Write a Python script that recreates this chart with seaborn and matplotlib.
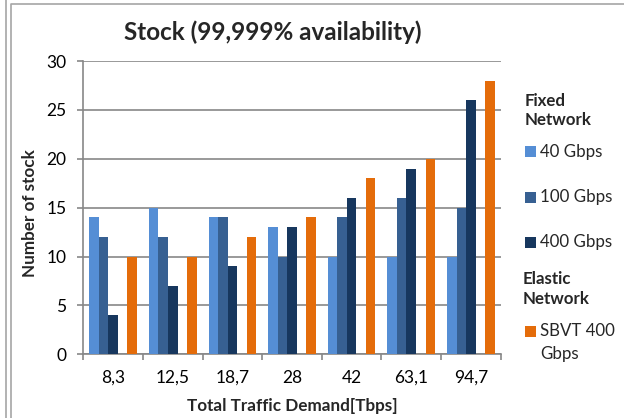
import matplotlib
matplotlib.use("Agg")
import matplotlib.pyplot as plt
from matplotlib.lines import Line2D
from matplotlib.patches import Rectangle
from matplotlib.ticker import FixedLocator, NullFormatter
import seaborn as sns
import pandas as pd
import numpy as np

# Demand scenarios (Tbps) and stock counts per transponder type
demand = ["8,3", "12,5", "18,7", "28", "42", "63,1", "94,7"]
stock_40g = [14, 15, 14, 13, 10, 10, 10]
stock_100g = [12, 12, 14, 10, 14, 16, 15]
stock_400g = [4, 7, 9, 13, 16, 19, 26]
stock_sbvt = [10, 10, 12, 14, 18, 20, 28]

series_names = ["40 Gbps", "100 Gbps", "400 Gbps", "SBVT 400 Gbps"]
colors = ["#558ED5", "#376092", "#17375E", "#E46C0A"]

# Empty hue slot separating the fixed-grid from the elastic transponders
SPACER = "_spacer"

rows = []
for name, vals in zip(series_names, [stock_40g, stock_100g, stock_400g, stock_sbvt]):
    for d, v in zip(demand, vals):
        rows.append({"demand": d, "type": name, "stock": v})
df = pd.DataFrame(rows)

hue_order = ["40 Gbps", "100 Gbps", "400 Gbps", SPACER, "SBVT 400 Gbps"]
palette = dict(zip(series_names, colors))
palette[SPACER] = "#FFFFFF"

sns.set_theme(style="white")
plt.rcParams["font.family"] = ["Lato", "DejaVu Sans"]

W, H = 624, 418
fig = plt.figure(figsize=(W / 100, H / 100), dpi=100)
ax = fig.add_axes([83.3 / W, 1 - 354.3 / H, (500.7 - 83.3) / W, (354.3 - 61) / H])

sns.barplot(data=df, x="demand", y="stock", hue="type", order=demand,
            hue_order=hue_order, palette=palette, width=0.8, linewidth=0,
            saturation=1, legend=False, ax=ax, zorder=3)

grid_col = "#878787"
ax.set_ylim(0, 30)
ax.set_xlim(-0.5, len(demand) - 0.5)
ax.set_yticks(np.arange(0, 31, 5))
ax.yaxis.grid(True, color=grid_col, linewidth=1.2, zorder=0)
ax.xaxis.grid(False)
ax.set_axisbelow(True)
for side in ["top", "right"]:
    ax.spines[side].set_visible(False)
for side in ["left", "bottom"]:
    ax.spines[side].set_color(grid_col)
    ax.spines[side].set_linewidth(1.2)

tick_fs = 12.5
ax.tick_params(axis="y", which="major", length=4, width=1.2, color=grid_col,
               labelsize=tick_fs, pad=8, labelcolor="#000000", left=True)
ax.tick_params(axis="x", which="major", length=0, labelsize=tick_fs, pad=11,
               labelcolor="#000000")
ax.xaxis.set_minor_locator(FixedLocator(np.arange(-0.5, len(demand), 1.0)))
ax.xaxis.set_minor_formatter(NullFormatter())
ax.tick_params(axis="x", which="minor", length=4, width=1.2, color=grid_col,
               bottom=True)

ax.set_xlabel("Total Traffic Demand[Tbps]", fontsize=12.3, fontweight="bold",
              labelpad=9)
ax.set_ylabel("Number of stock", fontsize=12.3, fontweight="bold", labelpad=6)
ax.yaxis.label.set_y(0.482)
ax.set_title("Stock (99,999% availability)", fontsize=17.5, fontweight="bold",
             pad=15, x=0.454)


def fx(px):
    return px / W


def fy(py):
    return 1 - py / H


# Legend: group headers with square swatches below each
leg_fs = 12.2
fig.text(fx(525), fy(110.5), "Fixed\nNetwork", fontsize=leg_fs, fontweight="bold",
         ha="left", va="center", linespacing=1.3)
fig.text(fx(523), fy(289), "Elastic\nNetwork", fontsize=leg_fs, fontweight="bold",
         ha="left", va="center", linespacing=1.3)

entries = [("40 Gbps", 151.5), ("100 Gbps", 197), ("400 Gbps", 242.5),
           ("SBVT 400", 331.5)]
sw = 11
for (label, cy), col in zip(entries, colors):
    fig.patches.append(Rectangle((fx(525), fy(cy + sw / 2)), sw / W, sw / H,
                                 transform=fig.transFigure, facecolor=col,
                                 edgecolor="none"))
    fig.text(fx(540), fy(cy), label, fontsize=leg_fs, ha="left", va="center")
fig.text(fx(540), fy(354), "Gbps", fontsize=leg_fs, ha="left", va="center")

# Surrounding frame lines
frame_col = "#A6A6A6"
fig.lines.append(Line2D([fx(6), fx(6)], [0, 1], transform=fig.transFigure,
                        color=frame_col, linewidth=1.2))
fig.lines.append(Line2D([fx(11), fx(11), 1], [0, fy(4), fy(4)],
                        transform=fig.transFigure, color=frame_col, linewidth=1.2))

fig.savefig("out.png", dpi=100)
